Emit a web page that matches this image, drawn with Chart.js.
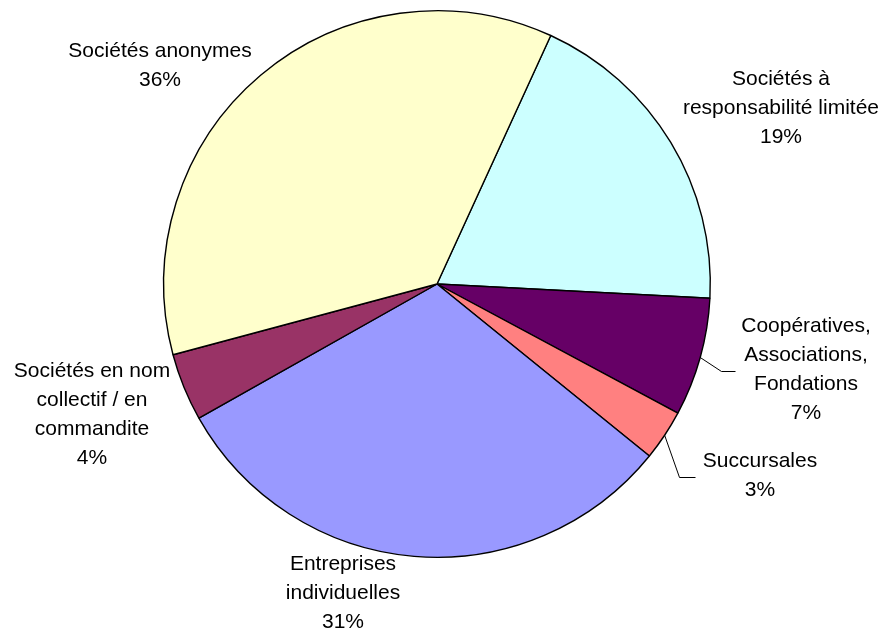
<!DOCTYPE html>
<html>
<head>
<meta charset="utf-8">
<script src="https://cdn.jsdelivr.net/npm/chart.js@4/dist/chart.umd.min.js"></script>
<style>
  html, body { margin: 0; padding: 0; background: #fff; }
  #wrap { width: 882px; height: 631px; }
</style>
</head>
<body>
<div id="wrap"><canvas id="pieChart" width="882" height="631"></canvas></div>
<script>
// Legal forms, clockwise from the first slice
const categories = [
    ["Sociétés à", "responsabilité limitée"],
    ["Coopératives,", "Associations,", "Fondations"],
    ["Succursales"],
    ["Entreprises", "individuelles"],
    ["Sociétés en nom", "collectif / en", "commandite"],
    ["Sociétés anonymes"]
];
const shares = [19, 7, 3, 31, 4, 36];
const sliceColors = ["#CCFFFF", "#660066", "#FF8080", "#9999FF", "#993366", "#FFFFCC"];

// label block centres, relative to the pie centre
const labelOffsets = [[344, -176], [369, 86], [323, 192], [-94, 309], [-345, 131], [-277, -218]];
// leader lines: elbow and end point, relative to the pie centre (null = no leader)
const leaders = [null, [[284, 87], [298, 87]], [[242, 193], [258, 193]], null, null, null];

const pieLabels = {
    id: 'pieLabels',
    afterDraw(chart) {
        const ctx = chart.ctx;
        const meta = chart.getDatasetMeta(0);
        const total = shares.reduce((a, b) => a + b, 0);
        ctx.save();
        ctx.font = '21px "Liberation Sans", Arial, sans-serif';
        ctx.fillStyle = '#000';
        ctx.strokeStyle = '#000';
        ctx.lineWidth = 1;
        ctx.textAlign = 'center';
        ctx.textBaseline = 'middle';
        meta.data.forEach((arc, i) => {
            const p = arc.getProps(['x', 'y', 'startAngle', 'endAngle', 'outerRadius'], true);
            const cx = p.x, cy = p.y;
            if (leaders[i]) {
                const mid = (p.startAngle + p.endAngle) / 2;
                ctx.beginPath();
                ctx.moveTo(cx + Math.cos(mid) * p.outerRadius, cy + Math.sin(mid) * p.outerRadius);
                leaders[i].forEach(pt => ctx.lineTo(cx + pt[0] + 0.5, cy + pt[1] + 0.5));
                ctx.stroke();
            }
            const lines = categories[i].concat([Math.round(shares[i] / total * 100) + '%']);
            const lx = cx + labelOffsets[i][0];
            const ly = cy + labelOffsets[i][1] - (lines.length - 1) * 29 / 2;
            lines.forEach((t, k) => ctx.fillText(t, lx, ly + k * 29));
        });
        ctx.restore();
    }
};

new Chart(document.getElementById('pieChart'), {
    type: 'pie',
    data: {
        labels: categories.map(c => c.join(' ')),
        datasets: [{
            data: shares,
            backgroundColor: sliceColors,
            borderColor: '#000',
            borderWidth: 1.4
        }]
    },
    options: {
        responsive: false,
        animation: false,
        rotation: 24.6,
        layout: {
            padding: { left: 163, right: 171, top: 10, bottom: 73 }
        },
        plugins: {
            legend: { display: false },
            tooltip: { enabled: false }
        }
    },
    plugins: [pieLabels]
});
</script>
</body>
</html>
